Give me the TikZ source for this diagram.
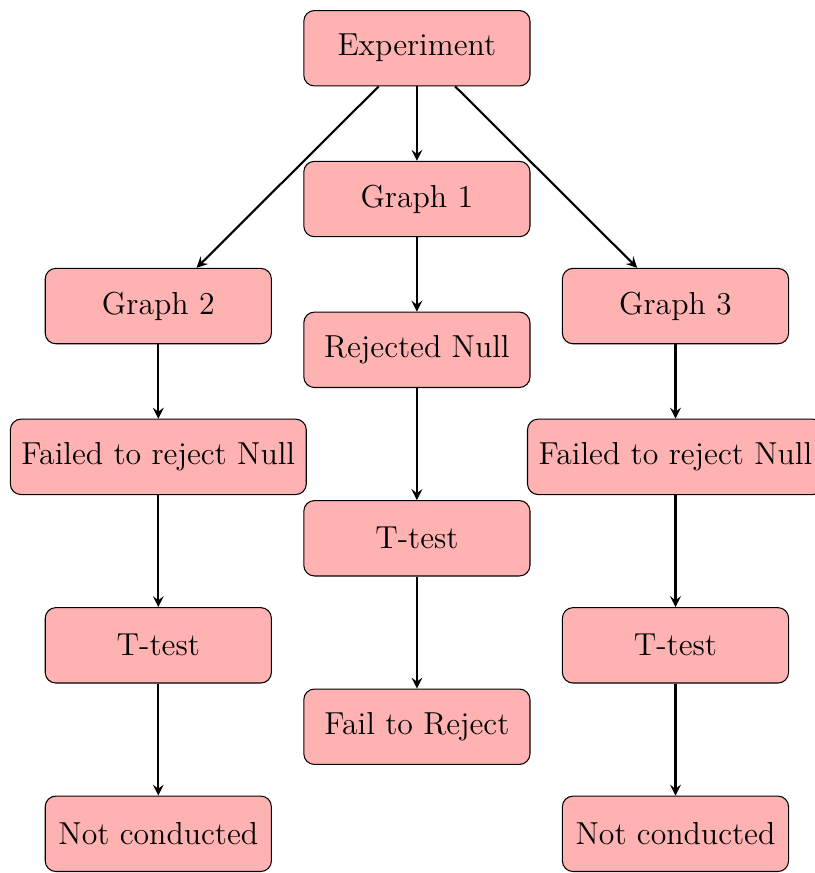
\documentclass[tikz,border=0pt]{standalone}
\usepackage{tikz}
\usetikzlibrary{arrows}

\begin{document}
\begin{tikzpicture}
	  [every node/.style={rectangle,rounded corners,draw,fill=red!30,minimum width=3cm,minimum height=1cm,inner xsep=4.2pt,font=\large}]
	\useasboundingbox (-5.53,0.64) rectangle (5.27,-10.94);
	\node (exp) at (0,0)        {Experiment};
	\node (g1)  at (0,-2)       {Graph 1};
	\node (g2)  at (-3.43,-3.42) {Graph 2};
	\node (g3)  at (3.43,-3.42) {Graph 3};
	\node (rej) at (0,-4)       {Rejected Null};
	\node (f2)  at (-3.43,-5.42) {Failed to reject Null};
	\node (f3)  at (3.43,-5.42) {Failed to reject Null};
	\node (t1)  at (0,-6.5)     {T-test};
	\node (t2)  at (-3.43,-7.92) {T-test};
	\node (t3)  at (3.43,-7.92) {T-test};
	\node (ftr) at (0,-9)       {Fail to Reject};
	\node (n2)  at (-3.43,-10.42) {Not conducted};
	\node (n3)  at (3.43,-10.42) {Not conducted};

	\foreach \from/\to in {exp/g1,exp/g2,exp/g3,g1/rej,rej/t1,t1/ftr,g2/f2,f2/t2,t2/n2,g3/f3,f3/t3,t3/n3}
	  \draw[thick,-stealth] (\from) -- (\to);
	\end{tikzpicture}
\end{document}
